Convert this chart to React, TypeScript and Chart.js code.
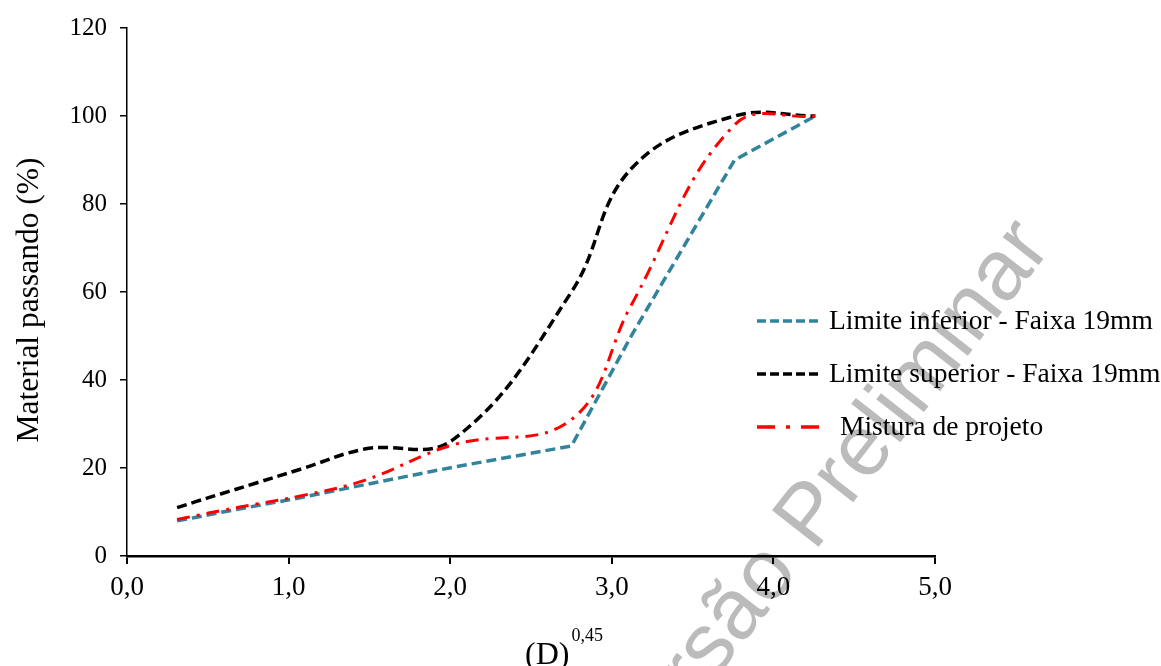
import React, { useEffect, useRef } from "react";
import { Chart, registerables } from "chart.js";

Chart.register(...registerables);

// (D)^0,45 for the sieve openings 0.075 ... 25 mm
const xValues = [0.31, 0.43, 0.58, 0.8, 1.08, 1.47, 2.02, 2.75, 3.12, 3.76, 4.26];
const lowerLimit = [8, 8.8, 9.9, 11.4, 13.3, 16.2, 20.2, 25, 50, 90, 100];
const upperLimit = [11, 12.4, 14.1, 16.6, 19.8, 24.3, 26.5, 60, 88, 100, 100];
const designMix = [8.3, 9.2, 10.3, 11.8, 13.7, 17.2, 25.3, 31, 57, 98, 100];

const xTicks = [0, 1, 2, 3, 4, 5];
const yTicks = [0, 20, 40, 60, 80, 100, 120];

const seriesLabels = [
  "Limite inferior - Faixa 19mm",
  "Limite superior - Faixa 19mm",
  "Mistura de projeto",
];
const yTitle = "Material passando (%)";
const xTitleBase = "(D)";
const xTitleSup = "0,45";
const watermark = "Versão Preliminar";

const SERIF = "'Liberation Serif', 'Times New Roman', serif";
const SANS = "'Liberation Sans', Arial, sans-serif";
const TEAL = "#31849B";

const legendDash = [[9, 4], [9, 4], [18, 11, 4, 11]];

const overlayPlugin = {
  id: "overlay",
  afterDraw(chart: any) {
    const ctx = chart.ctx as CanvasRenderingContext2D;
    ctx.save();
    // Legend
    const rows = [321, 374, 427];
    chart.data.datasets.forEach((ds: any, i: number) => {
      const y = rows[i];
      ctx.beginPath();
      ctx.setLineDash(legendDash[i]);
      ctx.strokeStyle = ds.borderColor;
      ctx.lineWidth = 3.5;
      ctx.moveTo(757, y);
      ctx.lineTo(820, y);
      ctx.stroke();
      ctx.setLineDash([]);
      ctx.fillStyle = "#000";
      ctx.font = `27.5px ${SERIF}`;
      ctx.textAlign = "left";
      ctx.textBaseline = "middle";
      ctx.fillText(ds.label, i === 2 ? 840 : 829, y + 1);
    });
    // Y title
    ctx.save();
    ctx.translate(30, 300);
    ctx.rotate(-Math.PI / 2);
    ctx.font = `31.5px ${SERIF}`;
    ctx.textAlign = "center";
    ctx.textBaseline = "middle";
    ctx.fillStyle = "#000";
    ctx.fillText(yTitle, 0, 0);
    ctx.restore();
    // X title with superscript
    ctx.font = `32px ${SERIF}`;
    ctx.textAlign = "left";
    ctx.textBaseline = "alphabetic";
    ctx.fillStyle = "#000";
    ctx.fillText(xTitleBase, 525, 664);
    const w = ctx.measureText(xTitleBase).width;
    ctx.font = `18px ${SERIF}`;
    ctx.fillText(xTitleSup, 525 + w + 2, 641);
    // Watermark
    ctx.save();
    ctx.globalCompositeOperation = "darken";
    ctx.translate(825, 500);
    ctx.rotate((-52 * Math.PI) / 180);
    ctx.font = `86px ${SANS}`;
    ctx.textAlign = "center";
    ctx.textBaseline = "middle";
    ctx.fillStyle = "#bbbbbb";
    ctx.fillText(watermark, 0, 0);
    ctx.restore();
    ctx.restore();
  },
};

export default function App() {
  const ref = useRef<HTMLCanvasElement | null>(null);
  useEffect(() => {
    document.body.style.margin = "0";
    const canvas = ref.current;
    if (!canvas) return;
    const toPts = (ys: number[]) => xValues.map((x, i) => ({ x, y: ys[i] }));
    const chart = new Chart(canvas, {
      type: "line",
      data: {
        datasets: [
          {
            label: seriesLabels[0],
            data: toPts(lowerLimit),
            borderColor: TEAL,
            borderWidth: 3.5,
            borderDash: [10, 5],
            tension: 0,
            pointRadius: 0,
            fill: false,
            order: 3,
          },
          {
            label: seriesLabels[1],
            data: toPts(upperLimit),
            borderColor: "#000000",
            borderWidth: 3.5,
            borderDash: [10, 5],
            tension: 0.4,
            pointRadius: 0,
            fill: false,
            order: 2,
          },
          {
            label: seriesLabels[2],
            data: toPts(designMix),
            borderColor: "#FF0000",
            borderWidth: 3,
            borderDash: [13, 7, 3, 7],
            tension: 0.4,
            pointRadius: 0,
            fill: false,
            order: 1,
          },
        ],
      },
      options: {
        responsive: false,
        animation: false,
        events: [],
        layout: { padding: { top: 27, right: 226, left: 0, bottom: 0 } },
        plugins: {
          legend: { display: false },
          tooltip: { enabled: false },
          title: { display: false },
        },
        scales: {
          x: {
            type: "linear",
            min: 0,
            max: 5,
            afterFit: (s: any) => {
              s.height = 110;
            },
            afterBuildTicks: (s: any) => {
              s.ticks = xTicks.map((v) => ({ value: v }));
            },
            grid: {
              drawOnChartArea: false,
              drawTicks: true,
              tickLength: 8,
              color: "#000",
              lineWidth: 2,
            },
            border: { display: true, color: "#000", width: 2.5 },
            ticks: {
              callback: (v: any) => Number(v).toFixed(1).replace(".", ","),
              font: { family: SERIF, size: 27 },
              color: "#000",
              padding: 8,
              maxRotation: 0,
              autoSkip: false,
            },
          },
          y: {
            type: "linear",
            min: 0,
            max: 120,
            afterFit: (s: any) => {
              s.width = 127;
            },
            afterBuildTicks: (s: any) => {
              s.ticks = yTicks.map((v) => ({ value: v }));
            },
            grid: {
              drawOnChartArea: false,
              drawTicks: true,
              tickLength: 7,
              color: "#000",
              lineWidth: 1.5,
            },
            border: { display: true, color: "#000", width: 1.5 },
            ticks: {
              font: { family: SERIF, size: 25 },
              color: "#000",
              padding: 13,
              autoSkip: false,
            },
          },
        },
      },
      plugins: [overlayPlugin],
    } as any);
    return () => chart.destroy();
  }, []);
  return (
    <canvas
      ref={ref}
      width={1161}
      height={666}
      style={{ display: "block", width: 1161, height: 666 }}
    />
  );
}
